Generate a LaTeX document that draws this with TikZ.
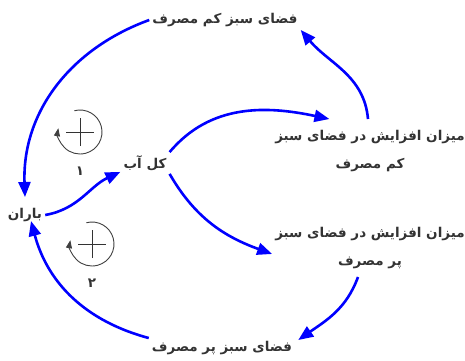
\documentclass[tikz,border=0pt]{standalone}
\usepackage{fontspec}
\usetikzlibrary{arrows.meta}
\TeXXeTstate=1
\newfontfamily\farsifont[Script=Arabic]{DejaVu Sans}
\tikzset{
  var/.style={font=\farsifont\bfseries\fontsize{13.5}{28}\selectfont,text=black!80,inner sep=3pt,align=center},
  link/.style={-{Triangle[length=15pt,width=12pt]},line width=2.6pt,blue},
  loopring/.style={-{Triangle[length=8pt,width=6pt]},line width=0.9pt,black!75},
  loopsign/.style={line width=0.9pt,black!80},
  loopnum/.style={font=\farsifont\bfseries\fontsize{13.5}{14}\selectfont,text=black!80},
}

\begin{document}
\begin{tikzpicture}[x=1pt,y=1pt]
  \useasboundingbox (0,0) rectangle (465,360);
  % variables
  \node[var] (greenLow)  at (225,340) {\beginR فضای سبز کم مصرف\endR};
  \node[var] (incLow)    at (370,209) {\beginR میزان افزایش در فضای سبز\endR\\\beginR کم مصرف\endR};
  \node[var] (water)     at (145,197) {\beginR کل آب\endR};
  \node[var] (rain)      at (25,145)  {\beginR باران\endR};
  \node[var] (incHigh)   at (370,112) {\beginR میزان افزایش در فضای سبز\endR\\\beginR پر مصرف\endR};
  \node[var] (greenHigh) at (222,12)  {\beginR فضای سبز پر مصرف\endR};
  % causal links
  \draw[link] (greenLow.west) to[out=200,in=92] ([yshift=8pt]rain.north);
  \draw[link] ([xshift=-2pt,yshift=8pt]incLow.north) to[out=95,in=-50] (greenLow.south east);
  \draw[link] (water.north east) to[out=50,in=168] ([xshift=-12pt,yshift=8pt]incLow.140);
  \draw[link] (rain.east) to[out=10,in=205] ([yshift=2pt]water.south west);
  \draw[link] (water.south east) to[out=-60,in=160] ([yshift=-6pt]incHigh.west);
  \draw[link] ([xshift=-12pt,yshift=-5pt]incHigh.south) to[out=-110,in=35] ([xshift=3pt,yshift=-2pt]greenHigh.north east);
  \draw[link] (greenHigh.north west) to[out=165,in=-75] ([xshift=6pt,yshift=4pt]rain.south);
  % loop markers
  \foreach \name/\x/\y/\num in {loopA/80/228/۱, loopB/92/116/۲}{
    \coordinate (\name) at (\x,\y);
    \draw[loopring] (\name) ++(105:22) arc[start angle=105,end angle=-190,radius=22];
    \draw[loopsign] (\x-14,\y) -- (\x+14,\y) (\x,\y-14) -- (\x,\y+14);
    \node[loopnum] at (\x,\y-39) {\num};
  }
\end{tikzpicture}
\end{document}
